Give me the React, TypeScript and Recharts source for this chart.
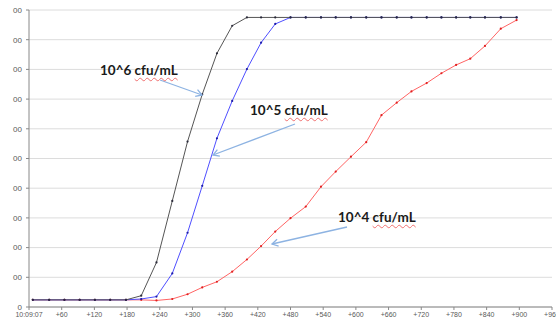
import { LineChart, Line, XAxis, YAxis, CartesianGrid } from 'recharts'

// sample times in seconds after 10:09:07
const times = [
  7, 37, 65, 93, 121, 149, 178, 206, 234, 263, 291, 318, 345, 373, 400, 426, 452,
  480, 508, 536, 563, 591, 619, 647, 675, 702, 730, 757, 784, 810, 837, 866, 895,
]

const cfu6 = [
  24, 24, 24, 24, 24, 24, 24, 38, 150, 357, 557, 716, 854, 947, 975, 975, 975,
  975, 975, 975, 975, 975, 975, 975, 975, 975, 975, 975, 975, 975, 975, 975, 975,
]

const cfu5 = [
  24, 24, 24, 24, 24, 24, 24, 27, 35, 113, 250, 408, 568, 694, 801, 890, 953,
  975, 975, 975, 975, 975, 975, 975, 975, 975, 975, 975, 975, 975, 975, 975, 975,
]

const cfu4 = [
  24, 24, 24, 24, 24, 24, 24, 24, 22, 27, 43, 66, 85, 119, 160, 205, 254,
  299, 338, 405, 456, 506, 555, 646, 688, 726, 754, 787, 815, 836, 879, 937, 966,
]

const xTicks = [0, 60, 120, 180, 240, 300, 360, 420, 480, 540, 600, 660, 720, 780, 840, 900, 960]
const yTicks = [0, 100, 200, 300, 400, 500, 600, 700, 800, 900, 1000]

const data = times.map((t, i) => ({ t, c6: cfu6[i], c5: cfu5[i], c4: cfu4[i] }))

// annotation callouts: label text, text box, arrow from/to (pixels)
const notes = [
  { label: '10^6', left: 100, top: 61, from: [160, 80], to: [202, 95] },
  { label: '10^5', left: 250, top: 101, from: [295, 124], to: [213, 155] },
  { label: '10^4', left: 338, top: 208, from: [347, 227], to: [272, 244] },
]

const tickStyle = { fontSize: 7, fill: '#595959', fontFamily: 'Liberation Sans, Arial, sans-serif' }

function Arrow({ from, to }: { from: number[]; to: number[] }) {
  const dx = to[0] - from[0]
  const dy = to[1] - from[1]
  const len = Math.sqrt(dx * dx + dy * dy)
  const ux = dx / len
  const uy = dy / len
  const s = 6
  const w = 3.5
  const a1 = [to[0] - ux * s - uy * w, to[1] - uy * s + ux * w]
  const a2 = [to[0] - ux * s + uy * w, to[1] - uy * s - ux * w]
  return (
    <g stroke="#8db3e2" strokeWidth={1.3} fill="none">
      <line x1={from[0]} y1={from[1]} x2={to[0]} y2={to[1]} />
      <polyline points={`${a1[0]},${a1[1]} ${to[0]},${to[1]} ${a2[0]},${a2[1]}`} />
    </g>
  )
}

export default function App() {
  return (
    <div style={{ position: 'absolute', left: 0, top: 0, width: 556, height: 325, overflow: 'hidden', background: '#fff' }}>
      <LineChart width={556} height={325} data={data} margin={{ top: 10, right: 4, bottom: 0, left: 8 }}>
        <CartesianGrid vertical={false} stroke="#dcdcdc" />
        <XAxis
          dataKey="t"
          type="number"
          domain={[0, 960]}
          ticks={xTicks}
          interval={0}
          tickFormatter={(v: number) => (v === 0 ? '10:09:07' : `+${v}`)}
          tick={tickStyle}
          stroke="#888"
          tickSize={3}
          tickMargin={2}
          height={18}
        />
        <YAxis
          type="number"
          domain={[0, 1000]}
          ticks={yTicks}
          interval={0}
          tickFormatter={(v: number) => (v === 0 ? '0' : '00')}
          tick={{ ...tickStyle, fontSize: 8 }}
          stroke="#888"
          tickSize={3}
          tickMargin={4}
          width={21}
        />
        <Line dataKey="c4" stroke="#ff6464" strokeWidth={1} dot={{ r: 1.1, fill: '#e02020', stroke: 'none' }} isAnimationActive={false} />
        <Line dataKey="c5" stroke="#4f4fff" strokeWidth={1} dot={{ r: 1.1, fill: '#1c1ca8', stroke: 'none' }} isAnimationActive={false} />
        <Line dataKey="c6" stroke="#555" strokeWidth={1} dot={{ r: 1.1, fill: '#2a2a3a', stroke: 'none' }} isAnimationActive={false} />
      </LineChart>
      <svg width={556} height={325} style={{ position: 'absolute', left: 0, top: 0, pointerEvents: 'none' }}>
        {notes.map((n) => (
          <Arrow key={n.label} from={n.from} to={n.to} />
        ))}
      </svg>
      {notes.map((n) => (
        <div
          key={n.label}
          style={{
            position: 'absolute',
            left: n.left,
            top: n.top,
            fontFamily: 'Lato, "Open Sans", sans-serif',
            fontWeight: 700,
            fontSize: 13.5,
            lineHeight: '18px',
            color: '#1a1a1a',
            whiteSpace: 'nowrap',
          }}
        >
          {n.label}{' '}
          <span style={{ textDecoration: 'underline wavy #f07070', textDecorationThickness: 0.8, textUnderlineOffset: 2 }}>cfu/mL</span>
        </div>
      ))}
    </div>
  )
}
